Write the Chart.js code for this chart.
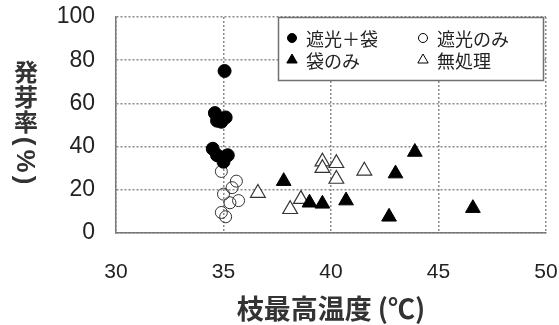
<!DOCTYPE html>
<html>
<head>
<meta charset="utf-8">
<script src="https://cdn.jsdelivr.net/npm/chart.js@4/dist/chart.umd.min.js"></script>
<style>
  html, body { margin: 0; padding: 0; background: #fff; }
  #wrap { width: 559px; height: 325px; }
</style>
</head>
<body>
<div id="wrap"><canvas id="chart" width="559" height="325"></canvas></div>
<script>
// series labels
const seriesNames = ["遮光＋袋", "遮光のみ", "袋のみ", "無処理"];

// 遮光＋袋 (filled circles)
const shadeBagX = [35.05, 34.6, 34.7, 34.9, 35.1, 34.5, 34.7, 35.0, 35.2, 35.0];
const shadeBagY = [75, 55.5, 52, 51.5, 53.5, 39, 36, 35, 36, 33];

// 遮光のみ (open circles)
const shadeOnlyX = [34.9, 35.6, 35.4, 35.0, 35.7, 35.3, 34.9, 35.1];
const shadeOnlyY = [28.5, 24, 21, 18, 15, 14, 9.5, 7.5];

// 袋のみ (filled triangles)
const bagOnlyX = [37.8, 39.0, 39.6, 40.7, 42.7, 43.0, 43.9, 46.6];
const bagOnlyY = [24, 14, 13.5, 15, 7.5, 27.5, 37.5, 11.5];

// 無処理 (open triangles)
const noTreatX = [36.6, 38.1, 38.6, 39.6, 39.6, 40.25, 40.25, 41.55];
const noTreatY = [18.5, 11, 15.7, 33, 30, 32.3, 25, 28.8];

const xTitle = "枝最高温度 (℃)";
const yTitleChars = ["発", "芽", "率"];
const yTitleUnit = ["(", "%", ")"];

function pts(xs, ys) {
    return xs.map(function (x, i) { return { x: x, y: ys[i] }; });
}

function drawLegend(chart) {
    const ctx = chart.ctx;
    ctx.save();
    ctx.fillStyle = "#fff";
    ctx.fillRect(278, 17, 266, 64);
    ctx.strokeStyle = "#707070";
    ctx.lineWidth = 1.5;
    ctx.strokeRect(278.5, 17.5, 265, 63);

    const cols = [292, 423];
    const rows = [38, 60];
    chart.data.datasets.forEach(function (ds, k) {
        const mx = cols[k % 2];
        const my = rows[Math.floor(k / 2)];
        ctx.beginPath();
        if (ds.pointStyle === "triangle") {
            const r = 6;
            ctx.moveTo(mx, my - r);
            ctx.lineTo(mx + r * 0.866, my + r * 0.5);
            ctx.lineTo(mx - r * 0.866, my + r * 0.5);
            ctx.closePath();
        } else {
            ctx.arc(mx, my, 4.5, 0, Math.PI * 2);
        }
        ctx.fillStyle = ds.backgroundColor;
        ctx.fill();
        ctx.strokeStyle = "#000";
        ctx.lineWidth = 1;
        ctx.stroke();

        ctx.fillStyle = "#222";
        ctx.font = "18px 'Noto Sans CJK JP'";
        ctx.textAlign = "left";
        ctx.textBaseline = "middle";
        ctx.fillText(ds.label, mx + 14, my + 1);
    });
    ctx.restore();
}

// vertical Japanese y-axis title: upright kanji, rotated unit
function drawYTitle(chart) {
    const ctx = chart.ctx;
    ctx.save();
    ctx.fillStyle = "#333";
    ctx.textAlign = "center";
    ctx.textBaseline = "middle";
    ctx.font = "bold 24px 'Noto Sans CJK JP'";
    yTitleChars.forEach(function (c, i) {
        ctx.fillText(c, 26, 72 + i * 25);
    });
    ctx.font = "bold 26px 'Liberation Sans'";
    const unitY = [141, 161, 180];
    yTitleUnit.forEach(function (c, i) {
        ctx.save();
        ctx.translate(24, unitY[i]);
        ctx.rotate(Math.PI / 2);
        ctx.fillText(c, 0, 0);
        ctx.restore();
    });
    ctx.restore();
}

const extras = {
    id: "extras",
    afterDraw(chart) {
        drawLegend(chart);
        drawYTitle(chart);
    }
};

// drop the extra side padding Chart.js adds for tick labels
function noEdgePadding(scale) {
    scale.paddingLeft = 0;
    scale.paddingRight = 0;
    scale.paddingTop = 0;
    scale.paddingBottom = 0;
}

new Chart(document.getElementById("chart").getContext("2d"), {
    type: "scatter",
    data: {
        datasets: [
            {
                label: seriesNames[0],
                data: pts(shadeBagX, shadeBagY),
                pointStyle: "circle",
                pointRadius: 6.5,
                backgroundColor: "#000",
                borderColor: "#000",
                borderWidth: 1
            },
            {
                label: seriesNames[1],
                data: pts(shadeOnlyX, shadeOnlyY),
                pointStyle: "circle",
                pointRadius: 6,
                backgroundColor: "rgba(255,255,255,0)",
                borderColor: "#333",
                borderWidth: 1
            },
            {
                label: seriesNames[2],
                data: pts(bagOnlyX, bagOnlyY),
                pointStyle: "triangle",
                pointRadius: 8.5,
                backgroundColor: "#000",
                borderColor: "#000",
                borderWidth: 1
            },
            {
                label: seriesNames[3],
                data: pts(noTreatX, noTreatY),
                pointStyle: "triangle",
                pointRadius: 8.5,
                backgroundColor: "#fff",
                borderColor: "#333",
                borderWidth: 1.2
            }
        ]
    },
    options: {
        responsive: false,
        animation: false,
        layout: { padding: { top: 17, right: 13, left: 0, bottom: 0 } },
        plugins: {
            legend: { display: false },
            tooltip: { enabled: false }
        },
        scales: {
            x: {
                type: "linear",
                min: 30,
                max: 50,
                ticks: {
                    stepSize: 5,
                    padding: 27,
                    color: "#222",
                    font: { family: "'Liberation Sans'", size: 21 }
                },
                grid: { color: "#8a8a8a", lineWidth: 1.5, drawTicks: false },
                border: { display: true, color: "#777", width: 1.5, dash: [2, 2] },
                title: {
                    display: true,
                    text: xTitle,
                    color: "#333",
                    padding: { top: 0, bottom: 0 },
                    font: { family: "'Noto Sans CJK JP'", size: 27, weight: "bold" }
                },
                afterFit(scale) {
                    scale.height = 92;
                    noEdgePadding(scale);
                }
            },
            y: {
                min: 0,
                max: 100,
                ticks: {
                    stepSize: 20,
                    padding: 21,
                    color: "#222",
                    font: { family: "'Liberation Sans'", size: 23 }
                },
                grid: { color: "#8a8a8a", lineWidth: 1.5, drawTicks: false },
                border: { display: true, color: "#777", width: 1.5, dash: [2, 2] },
                afterFit(scale) {
                    scale.width = 116;
                    noEdgePadding(scale);
                }
            }
        }
    },
    plugins: [extras]
});
</script>
</body>
</html>
